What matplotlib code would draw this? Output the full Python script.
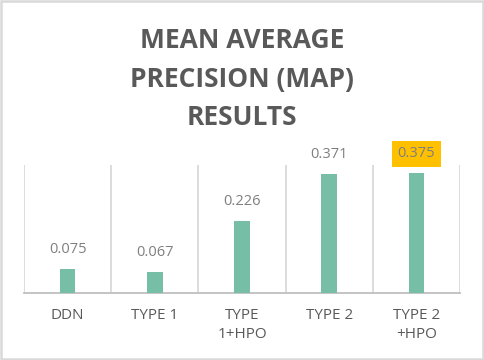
import matplotlib
matplotlib.use("Agg")
import matplotlib.pyplot as plt
from matplotlib.patches import Rectangle

categories = ["DDN", "TYPE 1", "TYPE\n1+HPO", "TYPE 2", "TYPE 2\n+HPO"]
values = [0.075, 0.067, 0.226, 0.371, 0.375]
labels = ["0.075", "0.067", "0.226", "0.371", "0.375"]
title = "MEAN AVERAGE\nPRECISION (MAP)\nRESULTS"

plt.rcParams['font.family'] = ['Open Sans', 'DejaVu Sans']

fig = plt.figure(figsize=(4.84, 3.6), dpi=100)
fig.patch.set_facecolor("white")
fig.add_artist(Rectangle((0.002, 0.003), 0.995, 0.993, transform=fig.transFigure,
                         fill=False, edgecolor="#d9d9d9", lw=1.8))

ax = fig.add_axes([24/484, 67/360, 436/484, 128/360])
x = list(range(len(categories)))
ax.bar(x, values, width=0.18, color="#76bfa6", zorder=3)
ax.set_xlim(-0.5, len(categories) - 0.5)
ax.set_ylim(0, 0.4)
for b in [i - 0.5 for i in range(len(categories) + 1)]:
    ax.axvline(b, color="#d9d9d9", lw=1.3, zorder=1)
for s in ["top", "right", "left"]:
    ax.spines[s].set_visible(False)
ax.spines["bottom"].set_color("#bfbfbf")
ax.spines["bottom"].set_linewidth(1.3)
ax.set_yticks([])
ax.set_xticks(x)
ax.set_xticklabels(categories, color="#595959", fontsize=11, linespacing=1.35)
ax.tick_params(axis="x", length=0, pad=11)

for i, (v, lab) in enumerate(zip(values, labels)):
    kw = dict(ha="center", va="center", fontsize=10.5, color="#7f7f7f", zorder=4)
    if i == len(values) - 1:
        kw["bbox"] = dict(boxstyle="square,pad=0.38", fc="#ffc000", ec="none")
    ax.annotate(lab, (i, v), xytext=(0, 14), textcoords="offset points", **kw)

fig.text(0.5, 1 - 79/360, title, ha="center", va="center", fontsize=19, fontweight="bold",
         color="#595959", linespacing=1.55)

fig.savefig("out.png", dpi=100)
